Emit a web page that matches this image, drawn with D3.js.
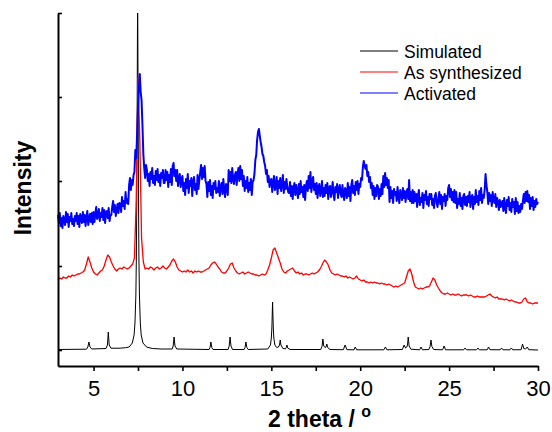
<!DOCTYPE html>
<html>
<head>
<meta charset="utf-8">
<script src="https://cdn.jsdelivr.net/npm/d3@7/dist/d3.min.js"></script>
<style>
  html, body { margin: 0; padding: 0; background: #fff; }
  svg { display: block; }
  text { font-family: Arial, "Liberation Sans", Helvetica, sans-serif; fill: #000; }
</style>
</head>
<body>
<svg id="chart" width="552" height="432"></svg>
<script>
// ---------------- DATA ----------------
const seriesNames = ["Simulated", "As synthesized", "Activated"];
const xTicks = [5, 7.5, 10, 12.5, 15, 17.5, 20, 22.5, 25, 27.5, 30];
const xTickLabels = ["5", "", "10", "", "15", "", "20", "", "25", "", "30"];
const yTicks = [0, 84, 169, 253, 337];

// Simulated pattern: [2theta, intensity] points
const simulated = [
  [3.0,0.5],[4.6,0.8],[4.68,3],[4.74,8],[4.8,3],[4.9,1],
  [5.7,1.5],[5.78,5],[5.83,18],[5.88,5],[5.98,1.8],
  [6.5,1.8],[6.8,2.3],[7.0,3],[7.18,7],[7.28,15],[7.33,27],[7.38,55],[7.41,95],[7.43,147],[7.45,230],[7.47,320],[7.48,337],[7.49,320],[7.51,230],[7.53,147],[7.55,95],[7.58,55],[7.63,27],[7.68,15],[7.78,7],[7.98,3],[8.3,1.5],[8.8,1],
  [9.42,1],[9.48,4],[9.53,13],[9.58,4],[9.68,1],
  [11.5,0.5],[11.55,2.5],[11.6,8],[11.65,2.5],[11.72,0.5],
  [12.57,0.5],[12.63,4],[12.68,13],[12.73,4],[12.82,0.5],
  [13.47,0.5],[13.52,2.5],[13.57,8],[13.62,2.5],[13.7,0.5],
  [14.8,1],[14.95,5],[15.0,12],[15.03,22],[15.05,35],[15.07,48],[15.09,35],[15.11,22],[15.14,12],[15.2,5],[15.3,2.5],[15.4,3],[15.46,5],[15.5,10],[15.54,5],[15.65,1.5],[15.8,1.2],[15.84,2.5],[15.88,5],[15.92,2],[16.05,0.5],
  [17.78,0.5],[17.85,3.5],[17.9,11],[17.95,4],[18.02,2.5],[18.08,3],[18.12,6],[18.17,2.5],[18.3,0.5],
  [19.05,0.3],[19.15,5],[19.25,0.3],
  [19.65,0.2],[19.72,3],[19.8,0.2],
  [21.33,0.2],[21.42,3],[21.5,0.2],
  [22.37,0.5],[22.47,5],[22.55,2],[22.62,3],[22.66,5],[22.7,13],[22.75,4],[22.85,0.8],
  [23.34,0.2],[23.42,3],[23.5,0.2],
  [23.86,0.5],[23.93,3.5],[23.98,10],[24.03,3.5],[24.13,0.5],
  [24.63,0.2],[24.72,4],[24.8,0.2],
  [25.82,0.2],[25.9,2],[25.98,0.2],
  [26.54,0.2],[26.62,2],[26.7,0.2],
  [27.14,0.2],[27.22,3],[27.3,0.3],
  [27.87,0.2],[27.95,2],[28.03,0.2],
  [28.42,0.2],[28.5,2],[28.58,0.2],
  [29.05,0.3],[29.13,6],[29.2,1.5],[29.3,1],[29.4,3],[29.48,0.3],
  [30.0,0]
];

// As synthesized: scan from 3.0 deg, 0.1 deg steps
const synthStart = 3.0, synthStep = 0.1;
const synthesized = [
  70,72,71,73,72,72,74,73,75,74,
  75,76,76,77,78,80,86,93,88,82,
  78,76,75,77,79,80,84,90,95,93,
  88,84,81,79,81,82,81,83,82,81,
  82,84,86,92,150,272,212,112,88,81,
  82,81,83,82,80,82,83,81,82,84,
  82,81,83,85,89,91,88,83,80,79,
  78,79,78,80,78,79,77,79,78,79,
  78,78,79,80,81,82,85,87,88,86,
  83,81,78,77,77,79,82,86,87,82,
  79,77,76,77,78,76,77,78,77,76,
  76,75,75,74,75,76,75,76,80,85,
  92,100,102,97,92,87,81,78,77,79,
  80,81,82,79,77,78,76,77,75,76,
  76,75,76,77,76,77,78,80,83,87,
  90,88,85,80,77,76,75,76,75,74,
  74,73,74,72,73,72,71,72,74,71,
  70,69,70,68,68,67,68,67,68,67,
  67,66,67,66,66,65,66,65,64,63,
  64,63,64,65,66,67,73,79,81,76,
  68,63,62,61,62,61,62,63,63,64,
  68,72,70,65,62,59,57,56,56,57,
  56,55,56,55,55,56,55,54,55,55,
  55,54,55,54,53,53,54,53,53,53,
  53,54,55,56,54,53,52,53,51,51,
  51,50,51,50,49,50,49,48,48,47,
  47,48,51,52,48,47,47,46,47,47,
  47
];

// Activated: scan from 3.0 deg, 0.05 deg steps
const activStart = 3.0, activStep = 0.05;
const activated = [
  135,127,137,124,132,122,134,130,125,138,128,136,123,133,129,137,126,131,124,134,
  129,137,126,134,123,136,132,127,138,128,135,124,133,139,125,131,136,128,137,126,
  138,128,136,143,131,134,141,129,137,133,142,130,140,127,138,139,132,142,129,135,
  135,143,149,138,145,134,140,146,137,147,146,138,153,144,149,141,158,147,151,146,
  165,172,160,170,165,175,178,200,192,215,242,262,276,258,250,225,196,182,172,185,
  180,169,176,164,178,171,182,167,174,165,179,170,181,168,175,164,177,172,180,167,
  167,180,170,178,163,175,168,181,165,184,187,174,180,169,180,164,171,176,163,171,
  174,159,167,155,171,162,176,157,169,164,172,154,168,173,160,166,156,175,161,170,
  178,185,171,182,173,184,169,166,153,168,159,170,155,164,152,167,161,169,157,162,
  158,169,154,164,167,156,171,160,153,166,163,155,180,169,178,167,182,171,166,175,
  178,165,176,182,169,184,171,180,164,174,159,169,162,173,158,167,160,171,155,168,
  170,176,190,195,210,218,221,214,208,203,196,194,188,184,176,180,168,174,163,170,
  171,158,167,174,160,164,173,156,169,162,172,159,166,175,157,168,161,171,163,158,
  157,168,154,164,151,162,167,155,165,159,152,166,156,169,158,163,153,165,150,164,
  169,159,174,162,178,158,167,173,160,166,156,167,152,163,166,154,159,169,153,162,
  154,165,157,167,151,162,164,153,160,168,155,150,163,158,166,152,161,165,156,153,
  165,155,150,162,159,152,167,154,163,149,165,170,157,164,155,168,160,169,156,166,
  163,172,170,183,189,184,181,185,174,178,168,173,162,167,155,164,151,162,154,165,
  163,151,161,154,166,156,174,163,177,165,172,162,170,148,163,152,159,147,161,155,
  158,149,163,153,147,160,156,150,162,152,159,148,157,161,151,170,149,158,147,160,
  147,158,149,156,143,154,160,145,152,148,157,142,155,150,159,146,153,144,156,151,
  156,145,151,142,154,157,147,143,152,158,146,155,141,153,149,156,144,154,150,162,
  165,153,161,150,158,148,160,147,158,142,151,146,157,144,152,141,154,156,145,153,
  144,154,148,158,143,152,155,141,153,146,160,148,154,145,159,150,162,147,155,152,
  160,176,165,158,146,157,149,155,144,158,150,147,156,143,152,148,140,150,143,147,
  149,139,152,142,137,150,144,153,140,147,138,151,143,148,136,152,139,148,137,144,
  138,146,141,149,156,147,158,149,159,148,155,141,152,144,153,140,149,143,151,146,
  148
];

// ---------------- STYLE / LAYOUT ----------------
const colors = ["#000000", "#ff0000", "#0000ff"];
const widths = [1, 1.3, 2];
const margin = { left: 58, right: 14, top: 13, bottom: 66 };
const W = 552, H = 432;

const svg = d3.select("#chart");
const x = d3.scaleLinear().domain([3, 30]).range([margin.left, W - margin.right]);
const y = d3.scaleLinear().domain([-16, 337]).range([H - margin.bottom, margin.top]);

const lineXY = d3.line().x(d => x(d[0])).y(d => y(d[1]));
const lineSynth = d3.line().x((d, i) => x(synthStart + i * synthStep)).y(d => y(d));
const lineActiv = d3.line().x((d, i) => x(activStart + i * activStep)).y(d => y(d));

svg.append("path").datum(simulated).attr("d", lineXY)
  .attr("fill", "none").attr("stroke", colors[0]).attr("stroke-width", widths[0]).attr("stroke-linejoin", "round");
svg.append("path").datum(synthesized).attr("d", lineSynth)
  .attr("fill", "none").attr("stroke", colors[1]).attr("stroke-width", widths[1]).attr("stroke-linejoin", "round");
svg.append("path").datum(activated).attr("d", lineActiv)
  .attr("fill", "none").attr("stroke", colors[2]).attr("stroke-width", widths[2]).attr("stroke-linejoin", "round");

// Axes
const xAxis = d3.axisBottom(x).tickValues(xTicks)
  .tickFormat((d, i) => xTickLabels[i]).tickSize(5).tickSizeOuter(0).tickPadding(9);
const gx = svg.append("g").attr("transform", `translate(0,${H - margin.bottom})`).call(xAxis);
gx.select(".domain").attr("stroke", "#000").attr("stroke-width", 2);
gx.selectAll(".tick line").attr("stroke", "#000").attr("stroke-width", 1.6);
gx.selectAll(".tick text").attr("font-size", 22).attr("font-family", "Arial, 'Liberation Sans', sans-serif").attr("fill", "#000");

const yAxis = d3.axisLeft(y).tickValues(yTicks).tickFormat("").tickSize(-4).tickSizeOuter(0);
const gy = svg.append("g").attr("transform", `translate(${margin.left},0)`).call(yAxis);
gy.select(".domain").attr("stroke", "#000").attr("stroke-width", 2);
gy.selectAll(".tick line").attr("stroke", "#000").attr("stroke-width", 1.6);

// Axis titles
const xt = svg.append("text").attr("x", 268).attr("y", 427)
  .attr("font-size", 23).attr("font-weight", "bold");
xt.append("tspan").text("2 theta / ");
xt.append("tspan").attr("font-size", 16).attr("dy", -10).text("o");

svg.append("text").attr("transform", "translate(31,188) rotate(-90)")
  .attr("text-anchor", "middle").attr("font-size", 23).attr("font-weight", "bold")
  .text("Intensity");

// Legend
const legend = svg.append("g");
seriesNames.forEach((name, i) => {
  const ly = 51 + i * 21;
  legend.append("line").attr("x1", 360).attr("x2", 398).attr("y1", ly).attr("y2", ly)
    .attr("stroke", colors[i]).attr("stroke-width", 1);
  legend.append("text").attr("x", 404).attr("y", ly + 6.5)
    .attr("font-size", 17.5).attr("fill", "#111").text(name);
});
</script>
</body>
</html>
